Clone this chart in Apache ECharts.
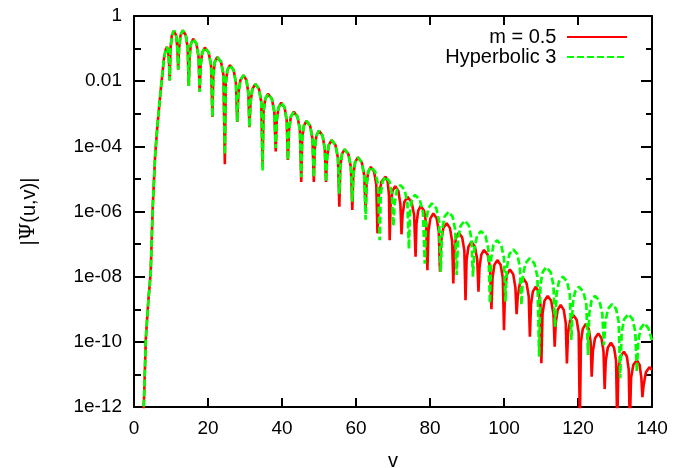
<!DOCTYPE html>
<html>
<head>
<meta charset="utf-8">
<script src="https://cdn.jsdelivr.net/npm/echarts@6/dist/echarts.min.js"></script>
<style>html,body{margin:0;padding:0;background:#fff}#c{width:694px;height:468px}</style>
</head>
<body>
<div id="c"></div>
<script>
// Series names
const seriesNames = ['m = 0.5', 'Hyperbolic 3'];
// x tick values and y tick labels (y axis shows log10 |Psi|)
const xTicks = [0, 20, 40, 60, 80, 100, 120, 140];
const yTickExps = [-12, -10, -8, -6, -4, -2, 0];
const yTickLabels = ['1e-12', '1e-10', '1e-08', '1e-06', '1e-04', '0.01', '1'];

const redLog10 = [
[2.4,-12.6],[2.7,-11.8],[3.2,-9.9],[3.6,-9.2],[3.9,-8.7],[4.5,-7.9],[5.05,-5.9],[5.7,-4.3],[6.3,-3.4],[7.2,-2.3],[8.1,-1.3],[8.6,-1.02],[8.9,-0.95],[9.27,-1.1],[9.5,-1.5],
[9.65,-1.98],
[9.86,-1.0],[10.23,-0.6],[10.8,-0.45],[11.38,-0.6],[11.74,-1.0],
[11.95,-1.65],
[12.18,-0.99],[12.58,-0.59],[13.2,-0.44],[14.0,-0.59],[14.51,-0.99],
[14.8,-2.15],
[15.02,-1.25],[15.4,-0.85],[16.0,-0.70],[16.88,-0.85],[17.44,-1.25],
[17.75,-2.33],
[18.0,-1.52],[18.45,-1.12],[19.15,-0.97],[20.18,-1.12],[20.83,-1.52],
[21.2,-3.10],
[21.43,-1.81],[21.85,-1.41],[22.5,-1.26],[23.53,-1.41],[24.18,-1.81],
[24.55,-4.55],
[24.8,-2.06],[25.25,-1.66],[25.95,-1.51],[26.93,-1.66],[27.55,-2.06],
[27.9,-3.25],
[28.21,-2.37],[28.75,-1.97],[29.6,-1.82],[30.4,-1.97],[30.91,-2.37],
[31.2,-3.41],
[31.49,-2.64],[32.0,-2.24],[32.8,-2.09],[33.78,-2.24],[34.4,-2.64],
[34.75,-4.6],
[35.01,-2.94],[35.48,-2.54],[36.2,-2.39],[37.25,-2.54],[37.92,-2.94],
[38.3,-4.16],
[38.57,-3.21],[39.05,-2.81],[39.8,-2.66],[40.7,-2.81],[41.28,-3.21],
[41.6,-4.42],
[41.89,-3.49],[42.4,-3.09],[43.2,-2.94],[44.2,-3.09],[44.84,-3.49],
[45.2,-5.09],
[45.45,-3.77],[45.9,-3.37],[46.6,-3.22],[47.6,-3.37],[48.24,-3.77],
[48.6,-5.09],
[48.85,-4.07],[49.3,-3.67],[50.0,-3.52],[50.95,-3.67],[51.56,-4.07],
[51.9,-5.09],
[52.17,-4.36],[52.65,-3.96],[53.4,-3.81],[54.45,-3.96],[55.12,-4.36],
[55.5,-5.85],
[55.75,-4.64],[56.2,-4.24],[56.9,-4.09],[57.95,-4.24],[58.62,-4.64],
[59.0,-5.95],
[59.27,-4.89],[59.75,-4.49],[60.5,-4.34],[61.55,-4.49],[62.22,-4.89],
[62.6,-6.0],
[62.85,-5.18],[63.3,-4.78],[64.0,-4.63],[64.9,-4.78],[65.48,-5.18],
[65.8,-6.67],
[66.2,-5.48],[66.9,-5.08],[68.0,-4.93],[68.55,-5.08],[68.9,-5.48],
[69.1,-6.88],
[69.37,-5.77],[69.85,-5.37],[70.6,-5.22],[71.45,-5.37],[71.99,-5.77],
[72.3,-6.70],
[72.59,-6.10],[73.1,-5.70],[73.9,-5.55],[75.0,-5.70],[75.7,-6.10],
[76.1,-7.39],
[76.35,-6.38],[76.8,-5.98],[77.5,-5.83],[78.4,-5.98],[78.98,-6.38],
[79.3,-7.80],
[79.59,-6.61],[80.1,-6.21],[80.9,-6.06],[81.8,-6.21],[82.38,-6.61],
[82.7,-7.85],
[83.02,-6.91],[83.6,-6.51],[84.5,-6.36],[85.4,-6.51],[85.98,-6.91],
[86.3,-8.21],
[86.57,-7.20],[87.05,-6.80],[87.8,-6.65],[88.7,-6.80],[89.28,-7.20],
[89.6,-8.72],
[89.89,-7.48],[90.4,-7.08],[91.2,-6.93],[92.15,-7.08],[92.76,-7.48],
[93.1,-8.46],
[93.37,-7.73],[93.85,-7.33],[94.6,-7.18],[95.6,-7.33],[96.24,-7.73],
[96.6,-9.00],
[96.89,-8.04],[97.4,-7.64],[98.2,-7.49],[99.1,-7.64],[99.68,-8.04],
[100.0,-9.64],
[100.29,-8.33],[100.8,-7.93],[101.6,-7.78],[102.5,-7.93],[103.08,-8.33],
[103.4,-9.15],
[103.72,-8.60],[104.3,-8.20],[105.2,-8.05],[106.1,-8.20],[106.68,-8.60],
[107.0,-9.84],
[107.29,-8.86],[107.8,-8.46],[108.6,-8.31],[109.35,-8.46],[109.83,-8.86],
[110.1,-10.66],
[110.41,-9.14],[110.95,-8.74],[111.8,-8.59],[112.75,-8.74],[113.36,-9.14],
[113.7,-10.15],
[113.99,-9.42],[114.5,-9.02],[115.3,-8.87],[116.15,-9.02],[116.69,-9.42],
[117.0,-10.66],
[117.32,-9.73],[117.9,-9.33],[118.8,-9.18],[119.65,-9.33],[120.19,-9.73],
[120.5,-12.6],
[120.79,-10.0],[121.3,-9.60],[122.1,-9.45],[122.9,-9.60],[123.41,-10.0],
[123.7,-11.07],
[124.02,-10.29],[124.6,-9.89],[125.5,-9.74],[126.35,-9.89],[126.89,-10.29],
[127.2,-11.45],
[127.51,-10.58],[128.05,-10.18],[128.9,-10.03],[129.75,-10.18],[130.29,-10.58],
[130.6,-12.6],
[130.92,-10.85],[131.5,-10.45],[132.4,-10.30],[133.2,-10.45],[133.71,-10.85],
[134.0,-12.6],
[134.34,-11.11],[134.95,-10.71],[135.9,-10.56],[136.65,-10.71],[137.13,-11.11],
[137.4,-11.7],
[137.74,-11.33],[138.35,-10.93],[139.3,-10.78],[140.0,-10.86]
];

const greenLog10 = [
[2.4,-12.6],[2.7,-11.8],[3.2,-9.9],[3.6,-9.2],[3.9,-8.7],[4.5,-7.9],[5.05,-5.9],[5.7,-4.3],[6.3,-3.4],[7.2,-2.3],[8.1,-1.3],[8.6,-1.02],[8.9,-0.95],[9.27,-1.1],[9.5,-1.5],
[9.65,-1.98],
[9.86,-1.0],[10.23,-0.6],[10.8,-0.45],[11.38,-0.6],[11.74,-1.0],
[11.95,-1.65],
[12.18,-0.99],[12.58,-0.59],[13.2,-0.44],[14.0,-0.59],[14.51,-0.99],
[14.8,-2.15],
[15.02,-1.25],[15.4,-0.85],[16.0,-0.70],[16.88,-0.85],[17.44,-1.25],
[17.75,-2.33],
[18.0,-1.52],[18.45,-1.12],[19.15,-0.97],[20.18,-1.12],[20.83,-1.52],
[21.2,-3.10],
[21.43,-1.81],[21.85,-1.41],[22.5,-1.26],[23.53,-1.41],[24.18,-1.81],
[24.55,-4.25],
[24.8,-2.06],[25.25,-1.66],[25.95,-1.51],[26.93,-1.66],[27.55,-2.06],
[27.9,-3.25],
[28.21,-2.37],[28.75,-1.97],[29.6,-1.82],[30.4,-1.97],[30.91,-2.37],
[31.2,-3.41],
[31.49,-2.64],[32.0,-2.24],[32.8,-2.09],[33.78,-2.24],[34.4,-2.64],
[34.75,-4.75],
[35.01,-2.94],[35.48,-2.54],[36.2,-2.39],[37.25,-2.54],[37.92,-2.94],
[38.3,-4.05],
[38.57,-3.21],[39.05,-2.81],[39.8,-2.66],[40.7,-2.81],[41.28,-3.21],
[41.6,-4.42],
[41.89,-3.49],[42.4,-3.09],[43.2,-2.94],[44.2,-3.09],[44.84,-3.49],
[45.2,-4.95],
[45.45,-3.77],[45.9,-3.37],[46.6,-3.22],[47.6,-3.37],[48.24,-3.77],
[48.6,-4.95],
[48.85,-4.07],[49.3,-3.67],[50.0,-3.52],[50.95,-3.67],[51.56,-4.07],
[51.9,-5.09],
[52.17,-4.36],[52.65,-3.96],[53.4,-3.81],[54.45,-3.96],[55.12,-4.36],
[55.5,-5.45],
[55.75,-4.64],[56.2,-4.24],[56.9,-4.09],[57.95,-4.24],[58.62,-4.64],
[59.0,-5.7],
[59.27,-4.89],[59.75,-4.49],[60.5,-4.34],[61.55,-4.49],[62.22,-4.89],
[62.6,-6.25],
[62.85,-5.18],[63.3,-4.78],[64.0,-4.63],[65.2,-4.78],[65.97,-5.18],
[66.4,-6.88],
[66.69,-5.48],[67.2,-5.08],[68.0,-4.93],[69.05,-5.08],[69.72,-5.48],
[70.1,-6.45],
[70.44,-5.74],[71.05,-5.34],[72.0,-5.19],[73.15,-5.34],[73.89,-5.74],
[74.3,-7.15],
[74.59,-6.04],[75.1,-5.64],[75.9,-5.49],[77.25,-5.64],[78.11,-6.04],
[78.6,-7.60],
[78.94,-6.30],[79.55,-5.90],[80.5,-5.75],[81.7,-5.90],[82.47,-6.30],
[82.9,-7.85],
[83.28,-6.56],[83.95,-6.16],[85.0,-6.01],[86.1,-6.16],[86.8,-6.56],
[87.2,-7.95],
[87.6,-6.83],[88.3,-6.43],[89.4,-6.28],[90.5,-6.43],[91.2,-6.83],
[91.6,-8.00],
[92.0,-7.15],[92.7,-6.75],[93.8,-6.60],[95.0,-6.75],[95.77,-7.15],
[96.2,-8.82],
[96.54,-7.43],[97.15,-7.03],[98.1,-6.88],[99.25,-7.03],[99.99,-7.43],
[100.4,-8.77],
[100.78,-7.71],[101.45,-7.31],[102.5,-7.16],[103.6,-7.31],[104.3,-7.71],
[104.7,-8.87],
[105.1,-7.99],[105.8,-7.59],[106.9,-7.44],[108.2,-7.59],[109.03,-7.99],
[109.5,-10.46],
[109.84,-8.26],[110.45,-7.86],[111.4,-7.71],[112.6,-7.86],[113.37,-8.26],
[113.8,-9.55],
[114.18,-8.55],[114.85,-8.15],[115.9,-8.00],[117.05,-8.15],[117.79,-8.55],
[118.2,-9.94],
[118.56,-8.86],[119.2,-8.46],[120.2,-8.31],[121.45,-8.46],[122.25,-8.86],
[122.7,-10.40],
[123.04,-9.14],[123.65,-8.74],[124.6,-8.59],[125.8,-8.74],[126.57,-9.14],
[127.0,-10.10],
[127.4,-9.39],[128.1,-8.99],[129.2,-8.84],[130.3,-8.99],[131.0,-9.39],
[131.4,-11.12],
[131.8,-9.70],[132.5,-9.30],[133.6,-9.15],[134.75,-9.30],[135.49,-9.70],
[135.9,-10.92],
[136.28,-9.98],[136.95,-9.58],[138.0,-9.43],[139.0,-9.58],[140.0,-9.95]
];

const FONT = '"Liberation Sans", Arial, Helvetica, sans-serif';
const black = '#000';
const axisLine = { show: true, onZero: false, lineStyle: { color: black, width: 2 } };
const yLabel = v => { const i = yTickExps.indexOf(Math.round(v)); return i >= 0 ? yTickLabels[i] : ''; };

const chart = echarts.init(document.getElementById('c'), null, { renderer: 'canvas' });
chart.setOption({
  animation: false,
  backgroundColor: '#fff',
  grid: { left: 134, right: 42, top: 16, bottom: 61, containLabel: false, outerBoundsMode: 'none' },
  legend: {
    orient: 'vertical', right: 61, top: 22, align: 'right',
    itemWidth: 60, itemHeight: 14, itemGap: 0,
    itemStyle: { opacity: 0 },
    formatter: name => name + ' ',
    textStyle: { fontSize: 20, color: black, fontFamily: FONT },
    data: seriesNames
  },
  xAxis: [
    { type: 'value', position: 'bottom', min: xTicks[0], max: xTicks[xTicks.length - 1], interval: 20,
      axisLine: axisLine, axisTick: { inside: true, length: 9, lineStyle: { color: black, width: 2 } },
      axisLabel: { fontSize: 19, color: black, fontFamily: FONT, margin: 12 },
      splitLine: { show: false },
      name: 'v', nameLocation: 'middle', nameGap: 44,
      nameTextStyle: { fontSize: 20, color: black, fontFamily: FONT } },
    { type: 'value', position: 'top', min: xTicks[0], max: xTicks[xTicks.length - 1], interval: 20,
      axisLine: axisLine, axisTick: { inside: true, length: 9, lineStyle: { color: black, width: 2 } },
      axisLabel: { show: false }, splitLine: { show: false } }
  ],
  yAxis: [
    { type: 'value', position: 'left', min: yTickExps[0], max: yTickExps[yTickExps.length - 1], interval: 2,
      axisLine: axisLine, axisTick: { inside: true, length: 11, lineStyle: { color: black, width: 2 } },
      minorTick: { show: true, splitNumber: 2, length: 7, lineStyle: { color: black, width: 2 } },
      axisLabel: { fontSize: 19, color: black, fontFamily: FONT, margin: 12, formatter: yLabel },
      splitLine: { show: false }, minorSplitLine: { show: false },
      name: '|{s|Ψ}(u,v)|', nameLocation: 'middle', nameGap: 95, nameRotate: 90,
      nameTextStyle: { fontSize: 20, color: black, fontFamily: FONT,
        rich: { s: { fontSize: 20, color: black, fontFamily: '"DejaVu Serif", "Liberation Serif", serif' } } } },
    { type: 'value', position: 'right', min: yTickExps[0], max: yTickExps[yTickExps.length - 1], interval: 2,
      axisLine: axisLine, axisTick: { inside: true, length: 11, lineStyle: { color: black, width: 2 } },
      minorTick: { show: true, splitNumber: 2, length: 6, lineStyle: { color: black, width: 2 } },
      axisLabel: { show: false }, splitLine: { show: false } }
  ],
  series: [
    { name: seriesNames[0], type: 'line', xAxisIndex: 0, yAxisIndex: 0, data: redLog10,
      symbol: 'none', clip: true, lineStyle: { color: '#ff0000', width: 2.6 }, itemStyle: { color: '#ff0000' } },
    { name: seriesNames[1], type: 'line', xAxisIndex: 0, yAxisIndex: 0, data: greenLog10,
      symbol: 'none', clip: true, lineStyle: { color: '#00ff00', width: 2.7, type: [7, 3] }, itemStyle: { color: '#00ff00' } }
  ]
});
</script>
</body>
</html>
